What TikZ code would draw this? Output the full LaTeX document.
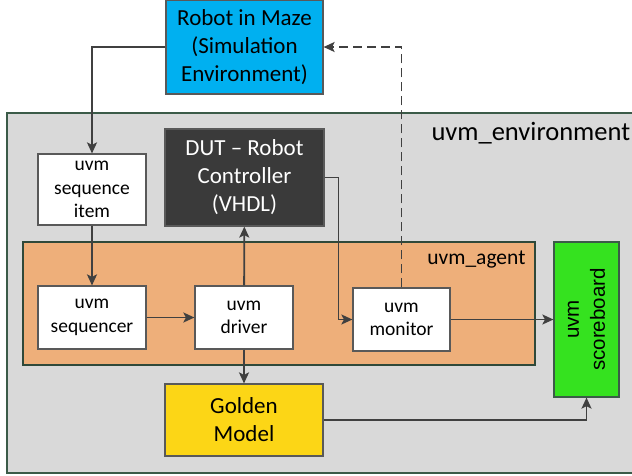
\documentclass[tikz,border=0pt]{standalone}
\usepackage{fontspec}
\setmainfont{Carlito}
\newfontfamily\arialfont{Liberation Sans}
\usetikzlibrary{arrows.meta}
\definecolor{simblue}{HTML}{00B0F0}
\definecolor{dutgray}{HTML}{3A3A3A}
\definecolor{agentorange}{HTML}{EEAF7A}
\definecolor{scoregreen}{HTML}{35E21F}
\definecolor{goldyellow}{HTML}{FCD616}
\definecolor{envgray}{HTML}{D9D9D9}
\definecolor{envline}{HTML}{3B5B48}
\definecolor{wiregray}{HTML}{404040}
\newcommand{\txtl}{\fontsize{23}{28}\selectfont}
\newcommand{\txts}{\fontsize{19.5}{23.5}\selectfont}
\newcommand{\blk}[6]{\node[#1,minimum width=#4,minimum height=#5] (#2) at (#3) {#6}}

\begin{document}
\begin{tikzpicture}[x=1pt,y=-1pt,
	box/.style={draw=black!65,line width=1.2pt,align=center,inner sep=0pt,font=\txtl},
	uvmbox/.style={box,fill=white,font=\txts},
	wire/.style={draw=wiregray,line width=1.8pt,-{Stealth[length=11pt,width=10pt,inset=2.5pt]}}]
	\useasboundingbox (0,0) rectangle (632,475);
	\draw[fill=envgray,draw=envline,line width=1.2pt] (7,113) rectangle (660,473);
	\node[anchor=west,font=\fontsize{26.5}{30}\selectfont] (envlbl) at (428,133) {uvm\_environment};
	\draw[fill=agentorange,draw=envline!80!black,line width=1.2pt] (23,242) rectangle (535,365);
	\node[anchor=east,font=\fontsize{21.5}{26}\selectfont] (agentlbl) at (529,260) {uvm\_agent};
	\blk{box,fill=simblue}{robot}{244.5,47}{157}{94}{Robot in Maze\\(Simulation\\Environment)};
	\blk{box,fill=dutgray,text=white}{dut}{244.5,177.5}{159}{97}{DUT \textendash{} Robot\\Controller\\(VHDL)};
	\blk{uvmbox}{seqitem}{92,189.5}{108}{71}{uvm\\sequence\\item};
	\blk{uvmbox}{sequencer}{92,317.5}{108}{63}{uvm\\sequencer};
	\blk{uvmbox}{driver}{244,317.5}{98}{63}{uvm\\driver};
	\blk{uvmbox}{monitor}{401.5,319.5}{97}{63}{uvm\\monitor};
	\blk{box,fill=goldyellow}{golden}{244,420}{158}{72}{Golden\\Model};
	\blk{box,fill=scoregreen,draw=envline}{score}{586.5,319.5}{65}{155}{};
	\node[rotate=90,align=center,font=\arialfont\fontsize{20.5}{26}\selectfont] (scorelbl) at (score) {uvm\\scoreboard};
	\draw[wire] (robot.west) -| (seqitem.north);
	\draw[wire] (seqitem) -- (sequencer);
	\draw[wire] (sequencer) -- (driver);
	\draw[wire] (driver) -- (dut);
	\draw[wire] (driver) -- (golden);
	\draw[wire,line width=1.5pt] (dut.east) -- ([xshift=14pt]dut.east) |- (monitor.west);
	\draw[wire,dashed,dash pattern=on 9pt off 5pt] (monitor.north) |- (robot.east);
	\draw[wire,line width=1.5pt] (monitor) -- (score);
	\draw[wire] (golden.east) -| (score.south);
\end{tikzpicture}
\end{document}
